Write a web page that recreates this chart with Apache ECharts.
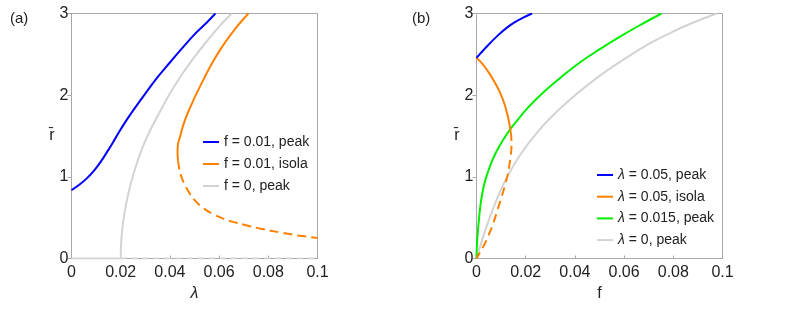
<!DOCTYPE html>
<html>
<head>
<meta charset="utf-8">
<script src="https://cdn.jsdelivr.net/npm/echarts@6/dist/echarts.min.js"></script>
<style>
html,body{margin:0;padding:0;background:#fff;}
#c{width:789px;height:314px;}
</style>
</head>
<body>
<div id="c"></div>
<script>
// ---- Panel (a): r̄ vs λ ----
const xTicksA = [0, 0.02, 0.04, 0.06, 0.08, 0.1];
const yTicks = [0, 1, 2, 3];

const lamBlueA = [0, 0.003, 0.006, 0.009, 0.012, 0.015, 0.018, 0.021, 0.025, 0.030, 0.035, 0.040, 0.045, 0.050, 0.055, 0.0585];
const rBlueA   = [0.837, 0.90, 0.975, 1.07, 1.19, 1.33, 1.48, 1.63, 1.81, 2.02, 2.22, 2.40, 2.575, 2.745, 2.89, 3.0];

const lamOrangeSolidA = [0.0433, 0.0431, 0.0433, 0.0442, 0.0451, 0.0462, 0.0475, 0.049, 0.0505, 0.0538, 0.0573, 0.0614, 0.0662, 0.0719];
const rOrangeSolidA   = [1.2, 1.3, 1.4, 1.5, 1.6, 1.7, 1.8, 1.9, 2.0, 2.2, 2.4, 2.6, 2.8, 3.0];
const lamOrangeDashA  = [0.0433, 0.0438, 0.0447, 0.0461, 0.048, 0.0499, 0.053, 0.0575, 0.062, 0.066, 0.0705, 0.077, 0.085, 0.092, 0.1];
const rOrangeDashA    = [1.2, 1.1, 1.0, 0.9, 0.8, 0.72, 0.63, 0.545, 0.485, 0.445, 0.41, 0.365, 0.318, 0.283, 0.25];

const lamGrayA = [0.02, 0.0202, 0.0208, 0.0218, 0.023, 0.0245, 0.0265, 0.029, 0.032, 0.036, 0.040, 0.045, 0.050, 0.055, 0.060, 0.0651];
const rGrayA   = [0, 0.2, 0.4, 0.6, 0.78, 0.96, 1.16, 1.37, 1.57, 1.8, 2.02, 2.26, 2.47, 2.66, 2.84, 3.0];
const lamGrayBaseSolidA = [0, 0.02];
const rGrayBaseSolidA   = [0, 0];
const lamGrayBaseDashA  = [0.02, 0.1];
const rGrayBaseDashA    = [0, 0];

const namesA = ['f = 0.01, peak', 'f = 0.01, isola', 'f = 0, peak'];

// ---- Panel (b): r̄ vs f ----
const xTicksB = [0, 0.02, 0.04, 0.06, 0.08, 0.1];

const fBlueB = [0, 0.004, 0.0088, 0.0125, 0.0156, 0.019, 0.0226];
const rBlueB = [2.457, 2.59, 2.735, 2.83, 2.895, 2.95, 3.0];

const fOrangeSolidB = [0, 0.0025, 0.0048, 0.0068, 0.0088, 0.0103, 0.0115, 0.0125, 0.0133, 0.0139];
const rOrangeSolidB = [2.457, 2.38, 2.285, 2.19, 2.08, 1.98, 1.88, 1.77, 1.66, 1.55];
const fOrangeDashB  = [0.0139, 0.0142, 0.0142, 0.0139, 0.0134, 0.0128, 0.0116, 0.0102, 0.0085, 0.0068, 0.0047, 0.0027, 0];
const rOrangeDashB  = [1.55, 1.45, 1.36, 1.26, 1.15, 1.04, 0.9, 0.755, 0.59, 0.43, 0.27, 0.143, 0];

const fGreenB = [0, 0.0001, 0.0004, 0.0009, 0.0016, 0.0025, 0.0036, 0.005, 0.0068, 0.009, 0.0125, 0.016, 0.021, 0.027, 0.034, 0.042, 0.05, 0.058, 0.066, 0.0752];
const rGreenB = [0, 0.12, 0.27, 0.45, 0.65, 0.82, 0.96, 1.09, 1.23, 1.36, 1.53, 1.67, 1.85, 2.03, 2.21, 2.40, 2.56, 2.71, 2.85, 3.0];

const fGrayB = [0, 0.002, 0.005, 0.009, 0.013, 0.018, 0.024, 0.03, 0.037, 0.045, 0.053, 0.061, 0.069, 0.077, 0.085, 0.0976];
const rGrayB = [0, 0.2, 0.47, 0.78, 1.03, 1.28, 1.52, 1.72, 1.92, 2.12, 2.3, 2.46, 2.61, 2.735, 2.85, 3.0];

const namesB = ['λ = 0.05, peak', 'λ = 0.05, isola', 'λ = 0.015, peak', 'λ = 0, peak'];

// ---- build ----
const zip = (xs, ys) => xs.map((x, i) => [x, ys[i]]);
const BLUE = '#0000ff', ORANGE = '#ff8000', GREEN = '#00ee00', GRAY = '#d3d3d3';
const AXIS = '#a8a8a8';
const FONT = '"Liberation Sans", Arial, "DejaVu Sans", sans-serif';

function line(name, data, color, gi, dash, z) {
  return {
    type: 'line', name, data: data, xAxisIndex: gi, yAxisIndex: gi,
    showSymbol: false, symbol: 'none', smooth: 0.4, z: z || 2,
    lineStyle: { color, width: 2, type: dash || 'solid' },
    itemStyle: { color }, emphasis: { disabled: true }, animation: false
  };
}

function xAxis(gi, name, italic, ticks) {
  return {
    type: 'value', gridIndex: gi, min: ticks[0], max: ticks[ticks.length - 1], interval: 0.02,
    name, nameLocation: 'middle', nameGap: 22,
    nameTextStyle: { fontFamily: FONT, fontSize: 16, color: '#222', fontStyle: italic ? 'italic' : 'normal' },
    axisLine: { show: true, lineStyle: { color: AXIS, width: 1 } },
    axisTick: { show: true, inside: true, length: 3, lineStyle: { color: AXIS } },
    axisLabel: { fontFamily: FONT, fontSize: 16, color: '#222', margin: 6,
      formatter: v => String(+v.toFixed(4)) },
    splitLine: { show: false }
  };
}
function yAxis(gi) {
  return {
    type: 'value', gridIndex: gi, min: yTicks[0], max: yTicks[yTicks.length - 1], interval: 1,
    name: 'r\u0304', nameLocation: 'middle', nameGap: 17, nameRotate: 0,
    nameTextStyle: { fontFamily: FONT, fontSize: 16, color: '#222' },
    axisLine: { show: true, lineStyle: { color: AXIS, width: 1 } },
    axisTick: { show: true, inside: false, length: 4, lineStyle: { color: AXIS } },
    axisLabel: { fontFamily: FONT, fontSize: 16, color: '#222', margin: 3 },
    splitLine: { show: false }
  };
}

const legendCommon = {
  orient: 'vertical', icon: 'rect', itemWidth: 16, itemHeight: 2, padding: 0,
  selectedMode: false,
  textStyle: { fontFamily: FONT, fontSize: 14, color: '#222',
    rich: { i: { fontFamily: FONT, fontSize: 14, fontStyle: 'italic', color: '#222' } } },
  formatter: n => n.replace('λ', '{i|λ}')
};

const option = {
  animation: false,
  backgroundColor: '#fff',
  title: [
    { text: '(a)', left: 5, top: 6, textStyle: { fontFamily: FONT, fontSize: 15, fontWeight: 'normal', color: '#222' } },
    { text: '(b)', left: 407, top: 6, textStyle: { fontFamily: FONT, fontSize: 15, fontWeight: 'normal', color: '#222' } }
  ],
  grid: [
    { left: 71.5, top: 13.5, width: 246, height: 245, show: true, borderColor: AXIS, borderWidth: 1, backgroundColor: 'transparent' },
    { left: 476.5, top: 13.5, width: 246, height: 245, show: true, borderColor: AXIS, borderWidth: 1, backgroundColor: 'transparent' }
  ],
  xAxis: [xAxis(0, 'λ', true, xTicksA), xAxis(1, 'f', false, xTicksB)],
  yAxis: [yAxis(0), yAxis(1)],
  legend: [
    Object.assign({}, legendCommon, { left: 203, top: 135, itemGap: 8, data: namesA }),
    Object.assign({}, legendCommon, { left: 597, top: 168, itemGap: 7.7, data: namesB })
  ],
  series: [
    line(namesA[0], zip(lamBlueA, rBlueA), BLUE, 0, null, 4),
    line(namesA[1], zip(lamOrangeSolidA, rOrangeSolidA), ORANGE, 0, null, 3),
    line(namesA[1], zip(lamOrangeDashA, rOrangeDashA), ORANGE, 0, [9, 5], 3),
    line(namesA[2], zip(lamGrayA, rGrayA), GRAY, 0, null, 2),
    line(namesA[2], zip(lamGrayBaseSolidA, rGrayBaseSolidA), GRAY, 0, null, 2),
    line(namesA[2], zip(lamGrayBaseDashA, rGrayBaseDashA), GRAY, 0, [6, 5], 2),

    line(namesB[0], zip(fBlueB, rBlueB), BLUE, 1, null, 5),
    line(namesB[1], zip(fOrangeSolidB, rOrangeSolidB), ORANGE, 1, null, 4),
    line(namesB[1], zip(fOrangeDashB, rOrangeDashB), ORANGE, 1, [9, 5], 4),
    line(namesB[2], zip(fGreenB, rGreenB), GREEN, 1, null, 3),
    line(namesB[3], zip(fGrayB, rGrayB), GRAY, 1, null, 2)
  ]
};

const chart = echarts.init(document.getElementById('c'), null, { renderer: 'canvas' });
chart.setOption(option);
</script>
</body>
</html>
